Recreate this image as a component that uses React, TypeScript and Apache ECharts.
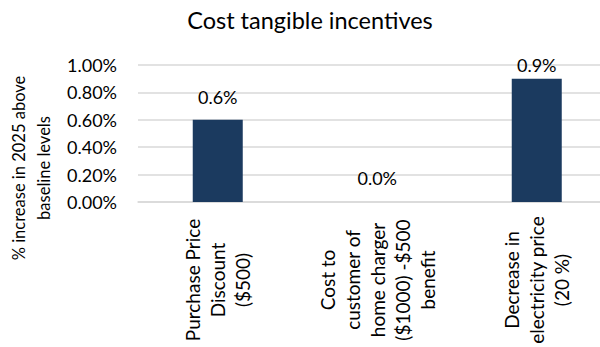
import React, { useEffect, useRef } from "react";
import * as echarts from "echarts";

const titleText = "Cost tangible incentives";
const yAxisTitle = "% increase in 2025 above\nbaseline levels";
const categories = [
  "Purchase Price\nDiscount\n($500)",
  "Cost to\ncustomer of\nhome charger\n($1000) -$500\nbenefit",
  "Decrease in\nelectricity price\n(20 %)",
];
const values = [0.6, 0.0, 0.9]; // percent
const yTicks = { min: 0, max: 1.0, interval: 0.2 };

const FONT = "Lato";
const labelDistances = [14, 15, 5];

export default function App() {
  const ref = useRef<HTMLDivElement>(null);
  useEffect(() => {
    document.body.style.margin = "0";
    const chart = echarts.init(ref.current!, null, { renderer: "svg" });
    chart.setOption({
      animation: false,
      title: {
        text: titleText,
        left: 305,
        textAlign: "center",
        top: 3,
        textStyle: { fontFamily: FONT, fontSize: 23.5, fontWeight: "normal", color: "#000" },
      },
      grid: {
        left: 138,
        top: 65,
        width: 478.5,
        height: 137,
        containLabel: false,
        outerBoundsMode: "none",
      },
      xAxis: {
        type: "category",
        data: categories,
        axisLine: { show: true, lineStyle: { color: "#d9d9d9", width: 1.5 } },
        axisTick: { show: false },
        axisLabel: {
          rotate: 90,
          interval: 0,
          hideOverlap: false,
          align: "center",
          margin: 78,
          fontFamily: FONT,
          fontSize: 19,
          color: "#000",
          lineHeight: 25,
        },
      },
      yAxis: {
        type: "value",
        min: yTicks.min,
        max: yTicks.max,
        interval: yTicks.interval,
        axisLine: { show: false },
        axisTick: { show: false },
        splitLine: { lineStyle: { color: "#d9d9d9", width: 1.5 } },
        axisLabel: {
          margin: 21,
          fontFamily: FONT,
          fontSize: 18,
          color: "#000",
          formatter: (v: number) => v.toFixed(2) + "%",
        },
      },
      series: [
        {
          type: "bar",
          barWidth: 50,
          itemStyle: { color: "#1b3a5f" },
          data: values.map((v, i) => ({
            value: v,
            label: { distance: labelDistances[i] },
          })),
          label: {
            show: true,
            position: "top",
            fontFamily: FONT,
            fontSize: 18,
            color: "#000",
            formatter: (p: any) => Number(p.value).toFixed(1) + "%",
          },
        },
      ],
      graphic: [
        {
          type: "text",
          x: 31,
          y: 168,
          rotation: Math.PI / 2,
          style: {
            text: yAxisTitle,
            align: "center",
            verticalAlign: "middle",
            fontFamily: FONT,
            fontSize: 16.5,
            lineHeight: 25,
            fill: "#000",
          },
        },
      ],
    });
    return () => chart.dispose();
  }, []);
  return <div ref={ref} style={{ width: 600, height: 347 }} />;
}
